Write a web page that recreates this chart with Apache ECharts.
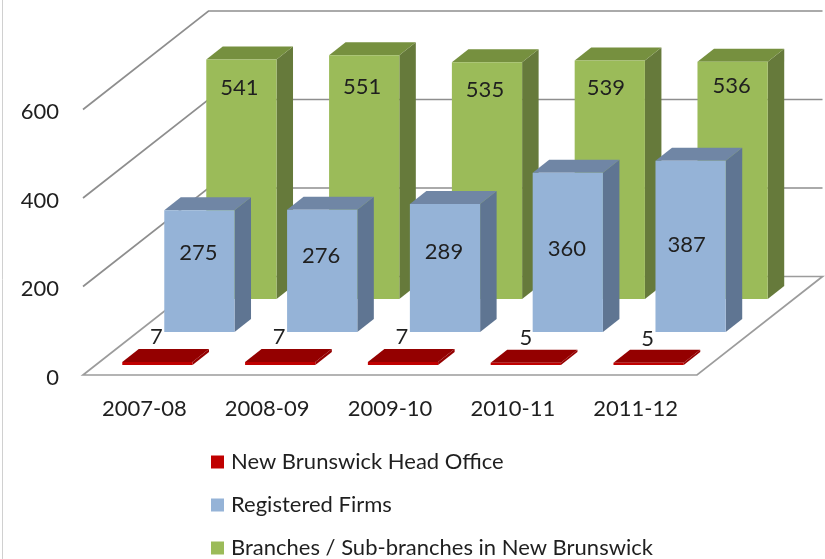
<!DOCTYPE html>
<html><head><meta charset="utf-8">
<style>html,body{margin:0;padding:0;background:#fff}#c{width:825px;height:559px}</style>
<script src="https://cdn.jsdelivr.net/npm/echarts@6/dist/echarts.min.js"></script>
</head><body><div id="c"></div>
<script>
var categories = ['2007-08','2008-09','2009-10','2010-11','2011-12'];
var headOffice = [7,7,7,5,5];
var registeredFirms = [275,276,289,360,387];
var branches = [541,551,535,539,536];
var yTicks = [0,200,400,600];

// projection / styling constants (not data)
var FONT = 'Lato, "Open Sans", sans-serif';
var TXT = '#1f1f1f';
var WALL_DX = 125.5, WALL_DY = -98.5;
var BAR_DX = 16.5, BAR_DY = -13;
var ROW_DX = 42, ROW_DY = -33, ROW0_DX = 13, ROW0_DY = -10;
var BAR_W = 0.572;
var styles = [
  {front:'#c00000', top:'#940000', side:'#940000', nudgeX:[-1,-1,-1,0,-1], drop:[-25,-25,-25,-25,-24]},
  {front:'#95b3d7', top:'#7086a5', side:'#5f7592', nudgeX:[-1,-1,-1,-1,-4], drop:[43,46,48,76,84]},
  {front:'#9bbb59', top:'#76903f', side:'#667a3b', nudgeX:[-2,-2,-2,-4,-1], drop:[28,32,28,27,24]}
];

function wallItem(params, api){
  var v = api.value(1);
  var p = api.coord([0, v]);
  var band = api.size([1,0])[0];
  var x0 = p[0]-band/2, y0 = p[1];
  var n = categories.length;
  var lineStyle = {stroke:'#8e8e8e', lineWidth:1.7, fill:null};
  if (v === 0) {
    return {type:'polygon', shape:{points:[[x0,y0],[x0+band*n,y0],[x0+band*n+WALL_DX,y0+WALL_DY],[x0+WALL_DX,y0+WALL_DY]]},
      style:{stroke:'#9c9c9c', lineWidth:1.7, fill:'#fff'}};
  }
  return {type:'polyline', shape:{points:[[x0,y0],[x0+WALL_DX,y0+WALL_DY],[x0+band*n+WALL_DX,y0+WALL_DY]]}, style:lineStyle};
}

function barItem(row){
  return function(params, api){
    var i = api.value(0), v = api.value(1), s = styles[row];
    var base = api.coord([i,0]), top = api.coord([i,v]);
    var w = api.size([1,0])[0]*BAR_W;
    var ox = ROW0_DX + row*ROW_DX, oy = ROW0_DY + row*ROW_DY;
    var l = base[0]+ox-w/2, r = l+w, b = base[1]+oy, t = top[1]+oy;
    var dx = BAR_DX, dy = BAR_DY;
    return {type:'group', children:[
      {type:'polygon', shape:{points:[[r,b],[r+dx,b+dy],[r+dx,t+dy],[r,t]]}, style:{fill:s.side}},
      {type:'polygon', shape:{points:[[l,t],[r,t],[r+dx,t+dy],[l+dx,t+dy]]}, style:{fill:s.top}},
      {type:'rect', shape:{x:l,y:t,width:w,height:b-t}, style:{fill:s.front}},
      {type:'text', x:(l+r)/2+s.nudgeX[i], y:t+s.drop[i],
        style:{text:String(v), fill:TXT, font:'22px '+FONT, align:'center', verticalAlign:'middle'}}
    ]};
  };
}

function toPairs(a){ return a.map(function(v,i){ return [i,v]; }); }
function barSeries(name,row,values){
  return {type:'custom', name:name, coordinateSystem:'cartesian2d', renderItem:barItem(row),
    data:toPairs(values), z:10-row, itemStyle:{color:styles[row].front}, clip:false, silent:true, animation:false};
}

var chart = echarts.init(document.getElementById('c'), null, {renderer:'canvas'});
chart.setOption({
  animation:false,
  backgroundColor:'#fff',
  grid:{left:83, top:109.5, width:614, height:265.5, containLabel:false},
  xAxis:{type:'category', data:categories, axisLine:{show:false}, axisTick:{show:false}, splitLine:{show:false},
    axisLabel:{color:TXT, fontFamily:FONT, fontSize:22, margin:23, lineHeight:22}},
  yAxis:{type:'value', min:0, max:600, interval:200, axisLine:{show:false}, axisTick:{show:false}, splitLine:{show:false},
    axisLabel:{color:TXT, fontFamily:FONT, fontSize:22, margin:24, verticalAlign:'top', lineHeight:5}},
  legend:{orient:'vertical', left:211, top:451, width:600, height:400, padding:0, itemWidth:13, itemHeight:13, itemGap:21, icon:'rect',
    textStyle:{color:TXT, fontFamily:FONT, fontSize:22, padding:[0,0,0,2]},
    data:['New Brunswick Head Office','Registered Firms','Branches / Sub-branches in New Brunswick']},
  graphic:[{type:'line', shape:{x1:2.5,y1:0,x2:2.5,y2:559}, style:{stroke:'#d0d0d0', lineWidth:1}, silent:true}],
  series:[
    {type:'custom', name:'wall', coordinateSystem:'cartesian2d', renderItem:wallItem,
      data:yTicks.map(function(v){return [0,v];}), z:1, clip:false, silent:true, animation:false},
    barSeries('Branches / Sub-branches in New Brunswick',2,branches),
    barSeries('Registered Firms',1,registeredFirms),
    barSeries('New Brunswick Head Office',0,headOffice)
  ]
});
</script></body></html>
